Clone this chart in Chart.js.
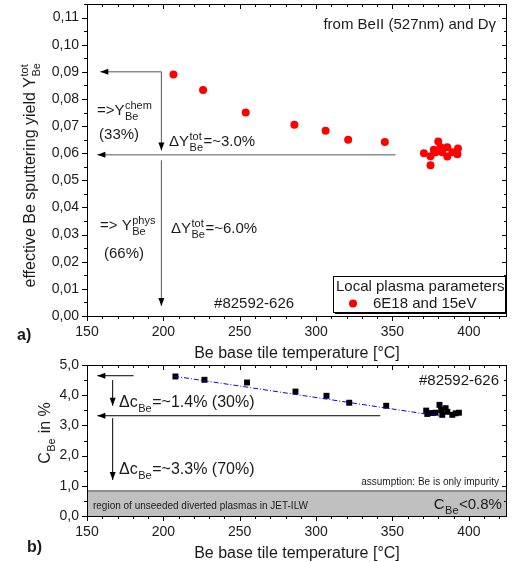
<!DOCTYPE html>
<html>
<head>
<meta charset="utf-8">
<script src="https://cdn.jsdelivr.net/npm/chart.js@4.4.0/dist/chart.umd.min.js"></script>
<style>
body { margin: 0; background: #fff; }
#wrap { position: relative; width: 513px; height: 562px; }
canvas { position: absolute; left: 0; }
</style>
</head>
<body>
<div id="wrap">
<canvas id="yieldChart" width="513" height="362" style="top:0px"></canvas>
<canvas id="concChart" width="513" height="217" style="top:345px"></canvas>
</div>
<script>
const FONT = '"Liberation Sans", Arial, sans-serif';

// panel a) effective Be sputtering yield
const tempA = [206.6, 226, 253.9, 285.8, 306.2, 321, 345, 370.6, 374.9, 374.9, 377.1, 378.2, 380, 381.5, 382.6, 385.9, 385.9, 389.2, 392.5, 392.9];
const yieldA = [0.0890, 0.0833, 0.0750, 0.0705, 0.0683, 0.0650, 0.0641, 0.0600, 0.0589, 0.0556, 0.0613, 0.0604, 0.0643, 0.0622, 0.0604, 0.0622, 0.0588, 0.0604, 0.0596, 0.0617];

// panel b) Be concentration
const tempB = [207.9, 226.9, 254.8, 286.5, 306.8, 321.7, 345.9, 372.1, 372.8, 376, 378.2, 380.8, 381.9, 382.6, 384.8, 385.9, 389.2, 391.4, 393.5];
const concB = [4.62, 4.51, 4.42, 4.12, 3.98, 3.75, 3.65, 3.49, 3.38, 3.41, 3.42, 3.68, 3.51, 3.35, 3.57, 3.45, 3.35, 3.40, 3.42];
const fitT = [207, 382];
const fitC = [4.63, 3.30];
const regionT = [150, 425];
const regionC = [0.83, 0.83];

// tick labels
const xTicks = [150, 200, 250, 300, 350, 400];
const yTicksA = [0, 0.01, 0.02, 0.03, 0.04, 0.05, 0.06, 0.07, 0.08, 0.09, 0.10, 0.11];
const yTicksB = [0, 1, 2, 3, 4, 5];

// arrows, in data units
const arrowsA = [
    [198.7, 0.0900, 158.7, 0.0900],
    [198.7, 0.0900, 198.7, 0.0610],
    [352, 0.0594, 156.8, 0.0594],
    [198.7, 0.0574, 198.7, 0.0037]
];
const arrowsB = [
    [180.5, 4.645, 156.8, 4.645],
    [166.8, 4.50, 166.8, 3.65],
    [342, 3.32, 156.8, 3.32],
    [166.8, 3.24, 166.8, 1.19]
];

// text labels: x, y (data units), align, size, parts
const textsA = [
    [417.8, 0.1058, 'right', 15, ['from BeII (527nm) and Dγ']],
    [156.5, 0.0741, 'left', 15, ['=>Y', {sup: 'chem', sub: 'Be'}]],
    [157.9, 0.0652, 'left', 15, ['(33%)']],
    [203.7, 0.0627, 'left', 15, ['ΔY', {sup: 'tot', sub: 'Be'}, '=~3.0%']],
    [158.5, 0.0317, 'left', 15, ['=> Y', {sup: 'phys', sub: 'Be'}]],
    [161.1, 0.0214, 'left', 15, ['(66%)']],
    [205, 0.0306, 'left', 15, ['ΔY', {sup: 'tot', sub: 'Be'}, '=~6.0%']],
    [233.2, 0.0029, 'left', 15, ['#82592-626']]
];
const textsB = [
    [171, 3.61, 'left', 16, ['Δc', {sub: 'Be'}, '=~1.4% (30%)']],
    [171, 1.39, 'left', 16, ['Δc', {sub: 'Be'}, '=~3.3% (70%)']],
    [419.8, 4.34, 'right', 15, ['#82592-626']],
    [419.8, 1.03, 'right', 10, ['assumption: Be is only impurity']],
    [153.9, 0.23, 'left', 10, ['region of unseeded diverted plasmas in JET-ILW']],
    [421.7, 0.23, 'right', 15, ['C', {sub: 'Be'}, '<0.8%']]
];

function drawRich(ctx, x, y, parts, size, align) {
    const small = Math.round(size * 0.7);
    let w = 0;
    parts.forEach(p => {
        if (typeof p === 'string') {
            ctx.font = size + 'px ' + FONT;
            w += ctx.measureText(p).width;
        } else {
            ctx.font = small + 'px ' + FONT;
            w += Math.max(p.sup ? ctx.measureText(p.sup).width : 0, p.sub ? ctx.measureText(p.sub).width : 0) + 1;
        }
    });
    let cx = align === 'right' ? x - w : align === 'center' ? x - w / 2 : x;
    ctx.textAlign = 'left';
    ctx.textBaseline = 'alphabetic';
    parts.forEach(p => {
        if (typeof p === 'string') {
            ctx.font = size + 'px ' + FONT;
            ctx.fillText(p, cx, y);
            cx += ctx.measureText(p).width;
        } else {
            ctx.font = small + 'px ' + FONT;
            let sw = 0;
            if (p.sup) {
                ctx.fillText(p.sup, cx + 0.5, y - size * 0.42);
                sw = ctx.measureText(p.sup).width;
            }
            if (p.sub) {
                ctx.fillText(p.sub, cx + 0.5, y + size * 0.32);
                sw = Math.max(sw, ctx.measureText(p.sub).width);
            }
            cx += sw + 1;
        }
    });
}

function arrow(ctx, x1, y1, x2, y2, lineColor) {
    ctx.strokeStyle = lineColor;
    ctx.lineWidth = 1;
    ctx.beginPath();
    ctx.moveTo(x1, y1);
    ctx.lineTo(x2, y2);
    ctx.stroke();
    const ang = Math.atan2(y2 - y1, x2 - x1);
    const len = 8, hw = 3;
    ctx.fillStyle = '#000';
    ctx.beginPath();
    ctx.moveTo(x2, y2);
    ctx.lineTo(x2 - len * Math.cos(ang) + hw * Math.sin(ang), y2 - len * Math.sin(ang) - hw * Math.cos(ang));
    ctx.lineTo(x2 - len * Math.cos(ang) - hw * Math.sin(ang), y2 - len * Math.sin(ang) + hw * Math.cos(ang));
    ctx.closePath();
    ctx.fill();
}

function isMajor(v, step) {
    return Math.abs(v / step - Math.round(v / step)) < 1e-6;
}

// frame with ticks on all four sides, arrows, texts, titles
const decoPlugin = {
    id: 'deco',
    afterDraw(chart, args, o) {
        const ctx = chart.ctx;
        const a = chart.chartArea;
        const sx = chart.scales.x, sy = chart.scales.y;
        ctx.save();
        ctx.strokeStyle = '#000';
        ctx.lineWidth = 1;
        ctx.strokeRect(Math.round(a.left) + 0.5, Math.round(a.top) + 0.5, Math.round(a.right - a.left) - 1, Math.round(a.bottom - a.top));
        ctx.beginPath();
        for (let v = sx.min; v <= sx.max + 1e-9; v += o.xMinor) {
            const px = Math.round(sx.getPixelForValue(v)) + 0.5;
            const len = isMajor(v, o.xMajor) ? 5 : 3;
            ctx.moveTo(px, a.bottom); ctx.lineTo(px, a.bottom + len);
            ctx.moveTo(px, a.top); ctx.lineTo(px, a.top + len);
        }
        for (let v = sy.min; v <= sy.max + 1e-9; v += o.yMinor) {
            const py = Math.round(sy.getPixelForValue(v)) + 0.5;
            const len = isMajor(v, o.yMajor) ? 5 : 3;
            ctx.moveTo(a.left - len, py); ctx.lineTo(a.left, py);
            ctx.moveTo(a.right - len, py); ctx.lineTo(a.right, py);
        }
        ctx.stroke();

        o.arrows.forEach(r => {
            arrow(ctx, sx.getPixelForValue(r[0]), sy.getPixelForValue(r[1]),
                sx.getPixelForValue(r[2]), sy.getPixelForValue(r[3]), o.arrowColor);
        });

        ctx.fillStyle = '#1a1a1a';
        o.texts.forEach(t => {
            drawRich(ctx, sx.getPixelForValue(t[0]), sy.getPixelForValue(t[1]), t[4], t[3], t[2]);
        });

        // x title
        drawRich(ctx, (a.left + a.right) / 2, a.bottom + o.xTitleGap, ['Be base tile temperature [°C]'], 16, 'center');
        // y title
        ctx.save();
        ctx.translate(o.yTitleX, o.yTitleY);
        ctx.rotate(-Math.PI / 2);
        drawRich(ctx, 0, 0, o.yTitle, 16, 'center');
        ctx.restore();
        // panel letter
        ctx.font = 'bold 16px ' + FONT;
        ctx.textAlign = 'left';
        ctx.fillText(o.panel[0], o.panel[1], o.panel[2]);

        if (o.legend) {
            const bx = a.right - 174, by = a.bottom - 40, bw = 172, bh = 36;
            ctx.fillStyle = '#fff';
            ctx.fillRect(bx, by, bw, bh);
            ctx.strokeStyle = '#000';
            ctx.lineWidth = 1;
            ctx.strokeRect(bx + 0.5, by + 0.5, bw, bh);
            ctx.beginPath();
            ctx.moveTo(bx + 2, by + bh + 1.5); ctx.lineTo(bx + bw + 1.5, by + bh + 1.5); ctx.lineTo(bx + bw + 1.5, by + 2);
            ctx.stroke();
            ctx.fillStyle = '#1a1a1a';
            drawRich(ctx, bx + 3, by + 15, ['Local plasma parameters'], 15, 'left');
            drawRich(ctx, bx + 40, by + 32, ['6E18 and 15eV'], 15, 'left');
            ctx.fillStyle = '#ff0000';
            ctx.beginPath();
            ctx.arc(bx + 20, by + 27.5, 4, 0, Math.PI * 2);
            ctx.fill();
        }
        ctx.restore();
    }
};

function xScale() {
    return {
        type: 'linear', min: 150, max: 425,
        afterBuildTicks: s => { s.ticks = xTicks.map(v => ({value: v})); },
        afterFit: s => { s.height = 46; s.paddingLeft = 0; s.paddingRight = 0; },
        grid: {display: false, drawTicks: false},
        border: {display: false},
        ticks: {padding: 8, color: '#1a1a1a', font: {family: FONT, size: 14}, maxRotation: 0}
    };
}

function yScale(max, ticks, digits) {
    return {
        type: 'linear', min: 0, max: max,
        afterBuildTicks: s => { s.ticks = ticks.map(v => ({value: v})); },
        afterFit: s => { s.width = 87; s.paddingTop = 0; s.paddingBottom = 0; },
        grid: {display: false, drawTicks: false},
        border: {display: false},
        ticks: {
            padding: 8, color: '#1a1a1a', font: {family: FONT, size: 14},
            callback: v => v.toFixed(digits).replace('.', ',')
        }
    };
}

new Chart(document.getElementById('yieldChart'), {
    type: 'scatter',
    data: {
        datasets: [{
            label: '6E18 and 15eV',
            data: tempA.map((t, i) => ({x: t, y: yieldA[i]})),
            backgroundColor: '#ff0000',
            borderWidth: 0,
            pointRadius: 4
        }]
    },
    options: {
        responsive: false,
        animation: false,
        layout: {padding: {left: 0, right: 6, top: 4, bottom: 0}},
        scales: {x: xScale(), y: yScale(0.115, yTicksA, 2)},
        plugins: {
            legend: {display: false},
            tooltip: {enabled: false},
            deco: {
                xMinor: 10, xMajor: 50, yMinor: 0.005, yMajor: 0.01,
                arrows: arrowsA, arrowColor: '#555', texts: textsA, legend: true,
                xTitleGap: 42, yTitleX: 35, yTitleY: 175,
                yTitle: ['effective Be sputtering yield Y', {sup: 'tot', sub: 'Be'}],
                panel: ['a)', 17, 340]
            }
        }
    },
    plugins: [decoPlugin]
});

new Chart(document.getElementById('concChart'), {
    type: 'scatter',
    data: {
        datasets: [{
            data: regionT.map((t, i) => ({x: t, y: regionC[i]})),
            showLine: true,
            fill: 'origin',
            backgroundColor: '#c0c0c0',
            borderColor: '#404040',
            borderWidth: 1,
            pointRadius: 0
        }, {
            data: fitT.map((t, i) => ({x: t, y: fitC[i]})),
            showLine: true,
            borderColor: '#0000ff',
            borderWidth: 1,
            borderDash: [5, 2, 1, 2],
            pointRadius: 0
        }, {
            data: tempB.map((t, i) => ({x: t, y: concB[i]})),
            pointStyle: 'rect',
            backgroundColor: '#000',
            borderWidth: 0,
            pointRadius: 4.2
        }]
    },
    options: {
        responsive: false,
        animation: false,
        layout: {padding: {left: 0, right: 6, top: 20, bottom: 0}},
        scales: {x: xScale(), y: yScale(5, yTicksB, 1)},
        plugins: {
            legend: {display: false},
            tooltip: {enabled: false},
            deco: {
                xMinor: 10, xMajor: 50, yMinor: 0.5, yMajor: 1,
                arrows: arrowsB, arrowColor: '#000', texts: textsB, legend: false,
                xTitleGap: 42, yTitleX: 50, yTitleY: 88,
                yTitle: ['C', {sub: 'Be'}, ' in %'],
                panel: ['b)', 27, 207]
            }
        }
    },
    plugins: [decoPlugin]
});
</script>
</body>
</html>
